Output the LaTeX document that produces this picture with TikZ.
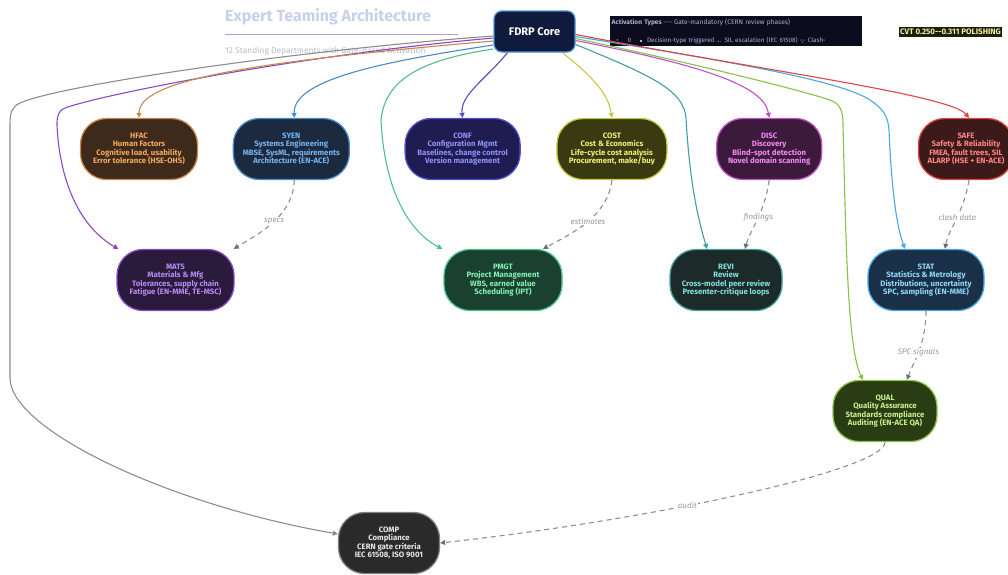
\documentclass[tikz,border=0pt]{standalone}
\usepackage{fontspec}
\setmainfont{Fira Sans}
\usetikzlibrary{arrows.meta, positioning, backgrounds}

\definecolor{coreF}{HTML}{0F1A3C}
\definecolor{coreB}{HTML}{4A90D8}
\definecolor{hfacF}{HTML}{3D2A1A}
\definecolor{hfacB}{HTML}{C8884A}
\definecolor{hfacT}{HTML}{F4A860}
\definecolor{syenF}{HTML}{1C2A40}
\definecolor{syenB}{HTML}{4A88C8}
\definecolor{syenT}{HTML}{78B4F0}
\definecolor{confF}{HTML}{1E1C50}
\definecolor{confB}{HTML}{5050C8}
\definecolor{confT}{HTML}{9090F8}
\definecolor{costF}{HTML}{3A3A12}
\definecolor{costB}{HTML}{C8C844}
\definecolor{costT}{HTML}{F0F078}
\definecolor{discF}{HTML}{3C1A3C}
\definecolor{discB}{HTML}{C050C8}
\definecolor{discT}{HTML}{F488F4}
\definecolor{safeF}{HTML}{3C1A1A}
\definecolor{safeB}{HTML}{E04444}
\definecolor{safeT}{HTML}{FF8484}
\definecolor{matsF}{HTML}{2A1A3C}
\definecolor{matsB}{HTML}{8848C8}
\definecolor{matsT}{HTML}{B88CF0}
\definecolor{pmgtF}{HTML}{1A4030}
\definecolor{pmgtB}{HTML}{4CC08A}
\definecolor{pmgtT}{HTML}{84F0B4}
\definecolor{reviF}{HTML}{1C2A2A}
\definecolor{reviB}{HTML}{40A0A0}
\definecolor{reviT}{HTML}{84E0E0}
\definecolor{statF}{HTML}{1A3048}
\definecolor{statB}{HTML}{48A8E0}
\definecolor{statT}{HTML}{90D8F8}
\definecolor{qualF}{HTML}{2A3C14}
\definecolor{qualB}{HTML}{88C048}
\definecolor{qualT}{HTML}{C8F090}
\definecolor{compF}{HTML}{2A2A2A}
\definecolor{compB}{HTML}{808080}
\definecolor{compT}{HTML}{E8E8E8}
\definecolor{compL}{HTML}{8C8C8C}
\definecolor{headC}{HTML}{C8D0EA}
\definecolor{ruleC}{HTML}{B0A0D8}
\definecolor{subC}{HTML}{B8BCCB}
\definecolor{legF}{HTML}{0C0C1E}
\definecolor{legT}{HTML}{B0B0C8}
\definecolor{cvtF}{HTML}{1E1E0E}
\definecolor{cvtT}{HTML}{F0F0A0}
\definecolor{feedC}{HTML}{8C8C9C}
\definecolor{feedT}{HTML}{687080}
\definecolor{tagC}{HTML}{9898A8}

\begin{document}
\begin{tikzpicture}[
    x=1pt, y=-1pt,
    core/.style={rectangle, rounded corners=8pt, draw=coreB, fill=coreF, line width=1.3pt, minimum width=81pt, minimum height=41pt, text=white, font=\bfseries\fontsize{11}{13}\selectfont},
    dept/.style={rectangle, rounded corners=26pt, line width=1.3pt, minimum height=61pt, inner sep=0pt, align=center, font=\bfseries\fontsize{7.8}{8.5}\selectfont},
    link/.style={line width=1.1pt, -{Triangle[length=5pt, width=5pt]}},
    feed/.style={line width=1.1pt, draw=feedC, dash pattern=on 5pt off 4pt, -{Triangle[length=5pt, width=5pt, color=feedT]}},
    tag/.style={fill=white, inner sep=1pt, text=tagC, font=\itshape\fontsize{8}{9}\selectfont}
]
\useasboundingbox (0,0) rectangle (1008,574);

% Core
\node[core] (core) at (534.5,31.5) {FDRP Core};

% Top row
\node[dept, draw=hfacB, fill=hfacF, text=hfacT, minimum width=117pt] (hfac) at (139,149) {HFAC\\Human Factors\\Cognitive load, usability\\Error tolerance (HSE-OHS)};
\node[dept, draw=syenB, fill=syenF, text=syenT, minimum width=116pt, right=34.5pt of hfac] (syen) {SYEN\\Systems Engineering\\MBSE, SysML, requirements\\Architecture (EN-ACE)};
\node[dept, draw=confB, fill=confF, text=confT, minimum width=115pt, right=54.5pt of syen] (conf) {CONF\\Configuration Mgmt\\Baselines, change control\\Version management};
\node[dept, draw=costB, fill=costF, text=costT, minimum width=110pt, right=35.5pt of conf] (cost) {COST\\Cost \& Economics\\Life-cycle cost analysis\\Procurement, make/buy};
\node[dept, draw=discB, fill=discF, text=discT, minimum width=105pt, right=48.5pt of cost] (disc) {DISC\\Discovery\\Blind-spot detection\\Novel domain scanning};
\node[dept, draw=safeB, fill=safeF, text=safeT, minimum width=95pt, right=95.5pt of disc] (safe) {SAFE\\Safety \& Reliability\\FMEA, fault trees, SIL\\ALARP (HSE + EN-ACE)};

% Second row
\node[dept, draw=matsB, fill=matsF, text=matsT, minimum width=117pt] (mats) at (175.5,280) {MATS\\Materials \& Mfg\\Tolerances, supply chain\\Fatigue (EN-MME, TE-MSC)};
\node[dept, draw=pmgtB, fill=pmgtF, text=pmgtT, minimum width=118pt] (pmgt) at (503,280) {PMGT\\Project Management\\WBS, earned value\\Scheduling (IPT)};
\node[dept, draw=reviB, fill=reviF, text=reviT, minimum width=112pt] (revi) at (726,280) {REVI\\Review\\Cross-model peer review\\Presenter-critique loops};
\node[dept, draw=statB, fill=statF, text=statT, minimum width=116pt] (stat) at (926,280) {STAT\\Statistics \& Metrology\\Distributions, uncertainty\\SPC, sampling (EN-MME)};

% Lower nodes
\node[dept, draw=qualB, fill=qualF, text=qualT, minimum width=104pt] (qual) at (885,411) {QUAL\\Quality Assurance\\Standards compliance\\Auditing (EN-ACE QA)};
\node[dept, draw=compB, fill=compF, text=compT, minimum width=101pt] (comp) at (389,543) {COMP\\Compliance\\CERN gate criteria\\IEC 61508, ISO 9001};

\begin{scope}[on background layer]
% Heading
\node[anchor=west, inner sep=0pt, text=headC, font=\bfseries\fontsize{16}{18}\selectfont] (title) at (225,17) {Expert Teaming Architecture};
\draw[ruleC, line width=0.8pt] (225,34) -- (458,34);
\node[anchor=west, inner sep=0pt, text=subC, font=\fontsize{8.4}{9}\selectfont] (subtitle) at (225,51) {12 Standing Departments with Gate-Based Activation};

% Legend
\node[anchor=north west, fill=legF, text=legT, text width=249pt, minimum height=30pt, inner xsep=1.5pt, inner ysep=2pt, align=left, font=\fontsize{6.6}{7.5}\selectfont] (legend) at (610,16) {\textbf{Activation Types} -{}-{}- Gate-mandatory (CERN review phases)\\[10.5pt]
{\fontsize{6.3}{7}\selectfont\hspace*{5pt}\textbullet\hspace{9pt}0\hspace{9pt}\raisebox{0.8pt}{\rule{1.8pt}{1.8pt}}\hspace{5pt}Decision-type triggered ... SIL escalation (IEC 61508) -,- Clash-}};
\node[fill=cvtF, text=cvtT, inner xsep=1.5pt, inner ysep=2pt, font=\bfseries\fontsize{8}{9}\selectfont] (cvt) at (950.5,32) {CVT 0.250-{}-0.311 POLISHING};

% Core links, left side
\draw[link, compL] ([yshift=-4.5pt]core.west) .. controls (300,50) and (60,85) .. (20,103) .. controls (12,107) and (10,112) .. (10,125) -- (10,378) .. controls (10,430) and (170,505) .. (comp.170);
\draw[link, matsB] ([yshift=-6.5pt]core.west) .. controls (300,55) and (100,95) .. (65,108) .. controls (58,111) and (57,116) .. (57,125) .. controls (60,190) and (85,230) .. ([xshift=2pt]mats.north west);
\draw[link, hfacB] ([yshift=-9.5pt]core.west) .. controls (250,62) and (139,80) .. (hfac.north);
\draw[link, syenB] ([yshift=-13.5pt]core.west) .. controls (380,62) and (293,80) .. ([xshift=3pt]syen.north);
\draw[link, pmgtB] ([yshift=-17.5pt]core.west) .. controls (420,60) and (385,80) .. (381,120) .. controls (385,200) and (415,235) .. ([xshift=-1pt]pmgt.north west);
\draw[link, confB] ([xshift=-27pt]core.south) .. controls (485,80) and (460,95) .. (conf.north);
\draw[link, costB] ([xshift=28pt]core.south) .. controls (590,75) and (608,92) .. (cost.north);

% Core links, right side
\draw[link, reviB] ([yshift=-13pt]core.east) .. controls (650,75) and (684,90) .. (686,118) .. controls (690,190) and (700,225) .. ([xshift=-19pt]revi.north);
\draw[link, discB] ([yshift=-9pt]core.east) .. controls (700,65) and (764,85) .. (disc.north);
\draw[link, qualB] ([yshift=-7pt]core.east) .. controls (700,65) and (800,90) .. (830,100) .. controls (840,104) and (843,110) .. (843,125) .. controls (846,250) and (848,350) .. ([xshift=-22pt]qual.north);
\draw[link, statB] ([yshift=-5pt]core.east) .. controls (720,60) and (840,80) .. (870,100) .. controls (882,108) and (888,115) .. (889,130) .. controls (892,200) and (898,230) .. ([xshift=-21pt]stat.north);
\draw[link, safeB] ([yshift=-3pt]core.east) .. controls (760,70) and (950,95) .. ([xshift=3pt]safe.north);
\end{scope}

% Feeds between departments
\draw[feed] ([xshift=3pt]syen.south) .. controls (293,215) and (262,232) .. ([xshift=-1pt]mats.north east) node[tag, pos=0.5] {specs};
\draw[feed] (cost.south) .. controls (608,215) and (575,232) .. ([xshift=40pt]pmgt.north) node[tag, pos=0.5] {estimates};
\draw[feed] (disc.south) .. controls (764,215) and (750,230) .. ([xshift=19pt]revi.north) node[tag, pos=0.45] {findings};
\draw[feed] ([xshift=3pt]safe.south) .. controls (963,215) and (948,230) .. ([xshift=19pt]stat.north) node[tag, pos=0.45] {clash data};
\draw[feed] (stat.south) .. controls (926,345) and (912,365) .. ([xshift=22pt]qual.north) node[tag, pos=0.5] {SPC signals};
\draw[feed] (qual.south) .. controls (885,470) and (650,520) .. (comp.east) node[tag, pos=0.6] {audit};

\end{tikzpicture}
\end{document}
